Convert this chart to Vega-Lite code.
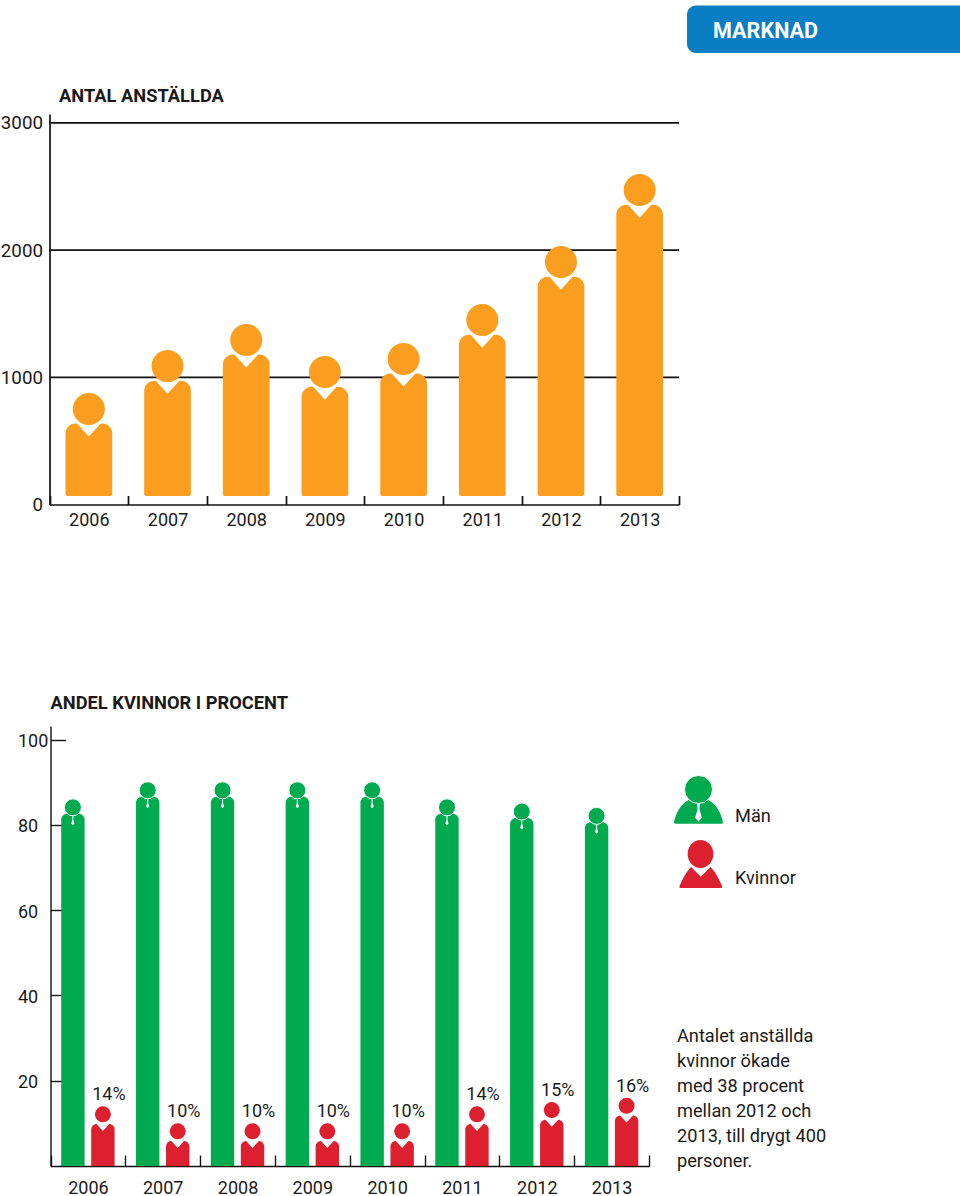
{"$schema":"https://vega.github.io/schema/vega-lite/v6.json","width":960,"height":1196,"autosize":"none","padding":0,"background":"white",
"config":{"view":{"stroke":null},"font":"Roboto","text":{"font":"Roboto","color":"#1a1a1a"}},
"datasets":{
"employees":[{"year":"2006","count":877},{"year":"2007","count":1214},{"year":"2008","count":1419},{"year":"2009","count":1167},{"year":"2010","count":1270},{"year":"2011","count":1576},{"year":"2012","count":2032},{"year":"2013","count":2598}],
"share":[{"year":"2006","men":86,"women":14,"label":"14%"},{"year":"2007","men":90,"women":10,"label":"10%"},{"year":"2008","men":90,"women":10,"label":"10%"},{"year":"2009","men":90,"women":10,"label":"10%"},{"year":"2010","men":90,"women":10,"label":"10%"},{"year":"2011","men":86,"women":14,"label":"14%"},{"year":"2012","men":85,"women":15,"label":"15%"},{"year":"2013","men":84,"women":16,"label":"16%"}],
"grid":[{"value":1000},{"value":2000},{"value":3000}]
},
"resolve":{"scale":{"x":"independent","y":"independent"},"axis":{"x":"independent","y":"independent"}},
"layer":[
{"data":{"name":"grid"},"mark":{"type":"rule","color":"#111","strokeWidth":1.7},
"encoding":{"x":{"datum":2005.5,"type":"quantitative","axis":null,"scale":{"domain":[2005.5,2013.5],"range":[49.5,679],"nice":false,"zero":false}},"x2":{"datum":2013.5},
"y":{"field":"value","type":"quantitative","axis":null,"scale":{"domain":[0,3070],"range":[504.5,114],"nice":false,"zero":false}}}},
{"data":{"name":"employees"},"mark":{"type":"bar","color":"#FB9D1E","width":46.7,"yOffset":30.6,"y2Offset":-8.5,"cornerRadiusTopLeft":10,"cornerRadiusTopRight":10,"cornerRadiusBottomLeft":2,"cornerRadiusBottomRight":2},
"encoding":{"x":{"field":"year","type":"ordinal","title":null,"scale":{"type":"band","range":[49.5,679],"paddingInner":0,"paddingOuter":0},
"axis":{"orient":"bottom","offset":-691.5,"domainColor":"#111","domainWidth":1.7,"tickColor":"#111","tickWidth":1.7,"tickSize":-9,"tickBand":"extent","tickExtra":true,"labelAngle":0,"labelFontSize":18,"labelFont":"Roboto","labelColor":"#1a1a1a","labelPadding":16,"grid":false}},
"y":{"field":"count","type":"quantitative","title":null,"scale":{"domain":[0,3070],"range":[504.5,114],"nice":false,"zero":false},
"axis":{"orient":"left","offset":-49.5,"values":[0,1000,2000,3000],"format":"d","domainColor":"#111","domainWidth":1.7,"ticks":false,"labelFontSize":18.8,"labelFont":"Roboto","labelColor":"#1a1a1a","labelPadding":7,"grid":false,"encode":{"labels":{"update":{"dy":{"signal":"datum.value===0?-2:(datum.value===3000?2:0)"}}}}}},
"y2":{"datum":0}}},
{"data":{"name":"employees"},"mark":{"type":"point","shape":"M-1,-0.1L1,-0.1L0,1Z","filled":true,"fill":"white","stroke":null,"opacity":1,"size":676,"yOffset":30.6},
"encoding":{"x":{"field":"year","type":"ordinal","axis":null,"scale":{"type":"band","range":[49.5,679],"paddingInner":0,"paddingOuter":0}},"y":{"field":"count","type":"quantitative","axis":null,"scale":{"domain":[0,3070],"range":[504.5,114],"nice":false,"zero":false}}}},
{"data":{"name":"employees"},"mark":{"type":"circle","color":"#FB9D1E","opacity":1,"size":1024,"yOffset":16},
"encoding":{"x":{"field":"year","type":"ordinal","axis":null,"scale":{"type":"band","range":[49.5,679],"paddingInner":0,"paddingOuter":0}},"y":{"field":"count","type":"quantitative","axis":null,"scale":{"domain":[0,3070],"range":[504.5,114],"nice":false,"zero":false}}}},

{"data":{"name":"share"},"mark":{"type":"bar","color":"#00AB4F","width":23.4,"xOffset":-15,"yOffset":14.5,"cornerRadiusTopLeft":6,"cornerRadiusTopRight":6},
"encoding":{"x":{"field":"year","type":"ordinal","title":null,"scale":{"type":"band","range":[50.5,649],"paddingInner":0,"paddingOuter":0},
"axis":{"orient":"bottom","offset":-30,"domainColor":"#111","domainWidth":1.4,"tickColor":"#111","tickWidth":1.4,"tickSize":-11,"tickBand":"extent","tickExtra":true,"labelAngle":0,"labelFontSize":18,"labelFont":"Roboto","labelColor":"#1a1a1a","labelPadding":24,"grid":false}},
"y":{"field":"men","type":"quantitative","title":null,"scale":{"domain":[0,103.2],"range":[1166,726],"nice":false,"zero":false},
"axis":{"orient":"left","offset":-50.5,"values":[20,40,60,80,100],"domainColor":"#111","domainWidth":1.4,"tickColor":"#111","tickWidth":1.4,"tickSize":-15,"labelFontSize":18,"labelFont":"Roboto","labelColor":"#1a1a1a","labelAlign":"left","labelPadding":48,"labelOffset":2,"grid":false}},
"y2":{"datum":0}}},
{"data":{"name":"share"},"mark":{"type":"circle","fill":"#00AB4F","stroke":"white","strokeWidth":1,"opacity":1,"size":289,"xOffset":-15,"yOffset":8},
"encoding":{"x":{"field":"year","type":"ordinal","axis":null,"scale":{"type":"band","range":[50.5,649],"paddingInner":0,"paddingOuter":0}},"y":{"field":"men","type":"quantitative","axis":null,"scale":{"domain":[0,103.2],"range":[1166,726],"nice":false,"zero":false}}}},
{"data":{"name":"share"},"mark":{"type":"point","shape":"M-0.15,-1L0.15,-1L0.1,-0.3L0.35,0.6L0,1L-0.35,0.6L-0.1,-0.3Z","filled":true,"fill":"white","stroke":null,"opacity":1,"size":81,"xOffset":-15,"yOffset":21.5},
"encoding":{"x":{"field":"year","type":"ordinal","axis":null,"scale":{"type":"band","range":[50.5,649],"paddingInner":0,"paddingOuter":0}},"y":{"field":"men","type":"quantitative","axis":null,"scale":{"domain":[0,103.2],"range":[1166,726],"nice":false,"zero":false}}}},
{"data":{"name":"share"},"mark":{"type":"bar","color":"#DD2030","width":23.4,"xOffset":15,"yOffset":17.6,"cornerRadiusTopLeft":5.5,"cornerRadiusTopRight":5.5},
"encoding":{"x":{"field":"year","type":"ordinal","axis":null,"scale":{"type":"band","range":[50.5,649],"paddingInner":0,"paddingOuter":0}},"y":{"field":"women","type":"quantitative","axis":null,"scale":{"domain":[0,103.2],"range":[1166,726],"nice":false,"zero":false}},"y2":{"datum":0}}},
{"data":{"name":"share"},"mark":{"type":"point","shape":"M-1,-0.1L1,-0.1L0,1Z","filled":true,"fill":"white","stroke":null,"opacity":1,"size":196,"xOffset":15,"yOffset":17.6},
"encoding":{"x":{"field":"year","type":"ordinal","axis":null,"scale":{"type":"band","range":[50.5,649],"paddingInner":0,"paddingOuter":0}},"y":{"field":"women","type":"quantitative","axis":null,"scale":{"domain":[0,103.2],"range":[1166,726],"nice":false,"zero":false}}}},
{"data":{"name":"share"},"mark":{"type":"circle","color":"#DD2030","opacity":1,"size":256,"xOffset":15,"yOffset":8},
"encoding":{"x":{"field":"year","type":"ordinal","axis":null,"scale":{"type":"band","range":[50.5,649],"paddingInner":0,"paddingOuter":0}},"y":{"field":"women","type":"quantitative","axis":null,"scale":{"domain":[0,103.2],"range":[1166,726],"nice":false,"zero":false}}}},
{"data":{"name":"share"},"mark":{"type":"text","fontSize":18,"xOffset":21,"yOffset":-11,"baseline":"middle","align":"center"},
"encoding":{"x":{"field":"year","type":"ordinal","axis":null,"scale":{"type":"band","range":[50.5,649],"paddingInner":0,"paddingOuter":0}},"y":{"field":"women","type":"quantitative","axis":null,"scale":{"domain":[0,103.2],"range":[1166,726],"nice":false,"zero":false}},"text":{"field":"label"}}},

{"data":{"values":[{"name":"Marknad"}]},"mark":{"type":"rect","color":"#0A7EC5","cornerRadiusTopLeft":9,"cornerRadiusBottomLeft":9},
"encoding":{"x":{"datum":687,"type":"quantitative","axis":null,"scale":{"domain":[0,960],"range":[0,960],"nice":false}},"x2":{"datum":960},"y":{"datum":5.5,"type":"quantitative","axis":null,"scale":{"domain":[0,1196],"range":[0,1196],"nice":false}},"y2":{"datum":53}}},
{"data":{"values":[{"t":"MARKNAD"}]},"mark":{"type":"text","color":"white","fontSize":21.6,"fontWeight":"bold","align":"left","baseline":"middle"},
"encoding":{"x":{"datum":713,"type":"quantitative","axis":null,"scale":{"domain":[0,960],"range":[0,960],"nice":false}},"y":{"datum":31.5,"type":"quantitative","axis":null,"scale":{"domain":[0,1196],"range":[0,1196],"nice":false}},"text":{"field":"t"}}},
{"data":{"values":[{"t":"ANTAL ANSTÄLLDA"}]},"mark":{"type":"text","fontSize":18.3,"fontWeight":"bold","align":"left","baseline":"middle"},
"encoding":{"x":{"datum":59,"type":"quantitative","axis":null,"scale":{"domain":[0,960],"range":[0,960],"nice":false}},"y":{"datum":96.5,"type":"quantitative","axis":null,"scale":{"domain":[0,1196],"range":[0,1196],"nice":false}},"text":{"field":"t"}}},
{"data":{"values":[{"t":"ANDEL KVINNOR I PROCENT"}]},"mark":{"type":"text","fontSize":18.3,"fontWeight":"bold","align":"left","baseline":"middle"},
"encoding":{"x":{"datum":50.5,"type":"quantitative","axis":null,"scale":{"domain":[0,960],"range":[0,960],"nice":false}},"y":{"datum":703.5,"type":"quantitative","axis":null,"scale":{"domain":[0,1196],"range":[0,1196],"nice":false}},"text":{"field":"t"}}},

{"data":{"values":[{"series":"Män"}]},"mark":{"type":"point","shape":"M-1,0.48Q-1,0.52 -0.93,0.52L0.93,0.52Q1,0.52 1,0.48C0.95,0.1 0.7,-0.3 0.45,-0.42L0.3,-0.52Q0,-0.3 -0.3,-0.52L-0.45,-0.42C-0.7,-0.3 -0.95,0.1 -1,0.48Z","filled":true,"fill":"#00AB4F","stroke":null,"opacity":1,"size":2401},
"encoding":{"x":{"datum":698.5,"type":"quantitative","axis":null,"scale":{"domain":[0,960],"range":[0,960],"nice":false}},"y":{"datum":811,"type":"quantitative","axis":null,"scale":{"domain":[0,1196],"range":[0,1196],"nice":false}}}},
{"data":{"values":[{"series":"Män"}]},"mark":{"type":"point","shape":"M-0.15,-1L0.15,-1L0.1,-0.3L0.35,0.6L0,1L-0.35,0.6L-0.1,-0.3Z","filled":true,"fill":"white","stroke":null,"opacity":1,"size":361},
"encoding":{"x":{"datum":698.5,"type":"quantitative","axis":null,"scale":{"domain":[0,960],"range":[0,960],"nice":false}},"y":{"datum":812,"type":"quantitative","axis":null,"scale":{"domain":[0,1196],"range":[0,1196],"nice":false}}}},
{"data":{"values":[{"series":"Män"}]},"mark":{"type":"circle","fill":"#00AB4F","stroke":"white","strokeWidth":1,"opacity":1,"size":784},
"encoding":{"x":{"datum":698.5,"type":"quantitative","axis":null,"scale":{"domain":[0,960],"range":[0,960],"nice":false}},"y":{"datum":789.5,"type":"quantitative","axis":null,"scale":{"domain":[0,1196],"range":[0,1196],"nice":false}}}},
{"data":{"values":[{"series":"Kvinnor"}]},"mark":{"type":"point","shape":"M-1,0.42Q-1,0.49 -0.93,0.49L0.93,0.49Q1,0.49 1,0.42C0.8,-0.05 0.6,-0.35 0.45,-0.49L0,-0.03L-0.45,-0.49C-0.6,-0.35 -0.8,-0.05 -1,0.42Z","filled":true,"fill":"#DD2030","stroke":null,"opacity":1,"size":1849},
"encoding":{"x":{"datum":700.8,"type":"quantitative","axis":null,"scale":{"domain":[0,960],"range":[0,960],"nice":false}},"y":{"datum":877.5,"type":"quantitative","axis":null,"scale":{"domain":[0,1196],"range":[0,1196],"nice":false}}}},
{"data":{"values":[{"series":"Kvinnor"}]},"mark":{"type":"point","shape":"M0,-1C0.5,-1 0.92,-0.55 0.92,0C0.92,0.55 0.5,1 0,1C-0.5,1 -0.92,0.55 -0.92,0C-0.92,-0.55 -0.5,-1 0,-1Z","filled":true,"fill":"#DD2030","stroke":null,"opacity":1,"size":784},
"encoding":{"x":{"datum":700.5,"type":"quantitative","axis":null,"scale":{"domain":[0,960],"range":[0,960],"nice":false}},"y":{"datum":854,"type":"quantitative","axis":null,"scale":{"domain":[0,1196],"range":[0,1196],"nice":false}}}},
{"data":{"values":[{"t":"Män"}]},"mark":{"type":"text","fontSize":18.2,"align":"left","baseline":"middle"},
"encoding":{"x":{"datum":735,"type":"quantitative","axis":null,"scale":{"domain":[0,960],"range":[0,960],"nice":false}},"y":{"datum":817,"type":"quantitative","axis":null,"scale":{"domain":[0,1196],"range":[0,1196],"nice":false}},"text":{"field":"t"}}},
{"data":{"values":[{"t":"Kvinnor"}]},"mark":{"type":"text","fontSize":18.2,"align":"left","baseline":"middle"},
"encoding":{"x":{"datum":735,"type":"quantitative","axis":null,"scale":{"domain":[0,960],"range":[0,960],"nice":false}},"y":{"datum":879,"type":"quantitative","axis":null,"scale":{"domain":[0,1196],"range":[0,1196],"nice":false}},"text":{"field":"t"}}},
{"data":{"values":[{"t":"Antalet anställda\nkvinnor ökade\nmed 38 procent\nmellan 2012 och\n2013, till drygt 400\npersoner."}]},"mark":{"type":"text","fontSize":18.2,"align":"left","baseline":"middle","lineBreak":"\n","lineHeight":25},
"encoding":{"x":{"datum":677,"type":"quantitative","axis":null,"scale":{"domain":[0,960],"range":[0,960],"nice":false}},"y":{"datum":1037,"type":"quantitative","axis":null,"scale":{"domain":[0,1196],"range":[0,1196],"nice":false}},"text":{"field":"t"}}}
]}
